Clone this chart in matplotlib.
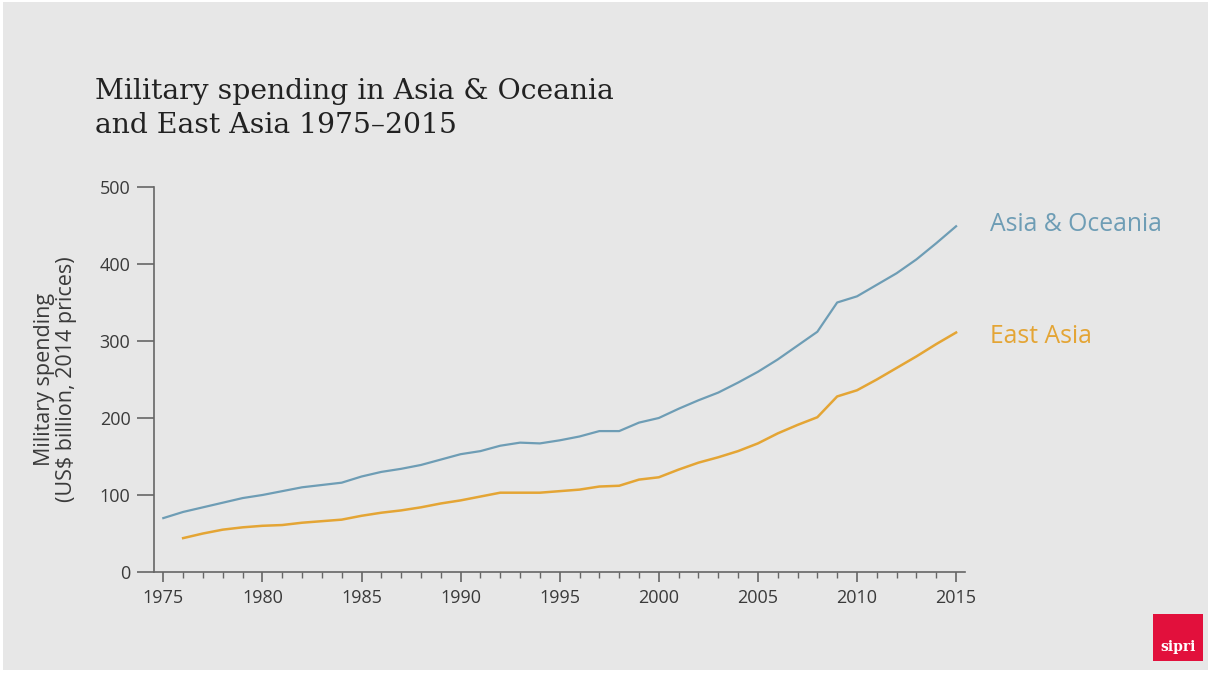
import matplotlib.pyplot as plt
from matplotlib.patches import Rectangle

years = list(range(1975, 2016))
asia_oceania = [70, 78, 84, 90, 96, 100, 105, 110, 113, 116,
                124, 130, 134, 139, 146, 153, 157, 164, 168, 167,
                171, 176, 183, 183, 194, 200, 212, 223, 233, 246,
                260, 276, 294, 312, 350, 358, 373, 388, 406, 427, 449]
east_asia_years = list(range(1976, 2016))
east_asia = [44, 50, 55, 58, 60, 61, 64, 66, 68,
             73, 77, 80, 84, 89, 93, 98, 103, 103, 103,
             105, 107, 111, 112, 120, 123, 133, 142, 149, 157,
             167, 180, 191, 201, 228, 236, 250, 265, 280, 296, 311]

blue = '#6e9db5'
orange = '#e4a535'
grey_bg = '#e7e7e7'
axis_col = '#666666'
text_col = '#3a3a3a'

fig = plt.figure(figsize=(12.12, 6.74), dpi=100, facecolor='white')
fig.patches.append(Rectangle((3 / 1212, 4 / 674), 1205 / 1212, 668 / 674,
                             transform=fig.transFigure, facecolor=grey_bg,
                             edgecolor='none', zorder=-10))

ax = fig.add_axes([154 / 1212, 1 - 572 / 674, 811 / 1212, 385 / 674])
ax.set_facecolor('none')

ax.plot(years, asia_oceania, color=blue, lw=1.6)
ax.plot(east_asia_years, east_asia, color=orange, lw=1.8)

ax.set_xlim(1974.53, 2015.45)
ax.set_ylim(0, 500)

for s in ['top', 'right']:
    ax.spines[s].set_visible(False)
for s in ['left', 'bottom']:
    ax.spines[s].set_color(axis_col)
    ax.spines[s].set_linewidth(1.2)

ax.set_yticks([0, 100, 200, 300, 400, 500])
ax.tick_params(axis='y', length=12, width=1.2, color=axis_col, pad=5,
               labelsize=13, labelcolor=text_col)
ax.set_xticks(range(1975, 2016, 5))
ax.set_xticks(years, minor=True)
ax.tick_params(axis='x', which='major', length=7, width=1.2, color=axis_col,
               pad=5, labelsize=13, labelcolor=text_col)
ax.tick_params(axis='x', which='minor', length=4.3, width=1.0, color=axis_col)
for lab in ax.get_xticklabels() + ax.get_yticklabels():
    lab.set_family('Open Sans')

ax.set_ylabel('Military spending\n(US$ billion, 2014 prices)', fontsize=15.5,
              color=text_col, family='Open Sans', labelpad=16, linespacing=1.1)

ax.text(2016.7, 449 + 2, 'Asia & Oceania', color=blue, fontsize=17.8,
        family='Open Sans', va='center', ha='left')
ax.text(2016.7, 311 - 5, 'East Asia', color=orange, fontsize=17.8,
        family='Open Sans', va='center', ha='left')

fig.text(95 / 1212, 1 - 133 / 674,
         'Military spending in Asia & Oceania\nand East Asia 1975\u20132015',
         fontsize=20.3, family='DejaVu Serif', color='#222222',
         va='baseline', ha='left', linespacing=1.35)

# sipri logo
fig.patches.append(Rectangle((1153 / 1212, 1 - 661 / 674), 50 / 1212, 47 / 674,
                             transform=fig.transFigure, facecolor='#e2103c',
                             edgecolor='none'))
fig.text(1178 / 1212, 1 - 647 / 674, 'sipri', color='white', fontsize=10,
         family='DejaVu Serif', weight='bold', ha='center', va='center')

fig.savefig('out.png', dpi=100, facecolor=fig.get_facecolor())
